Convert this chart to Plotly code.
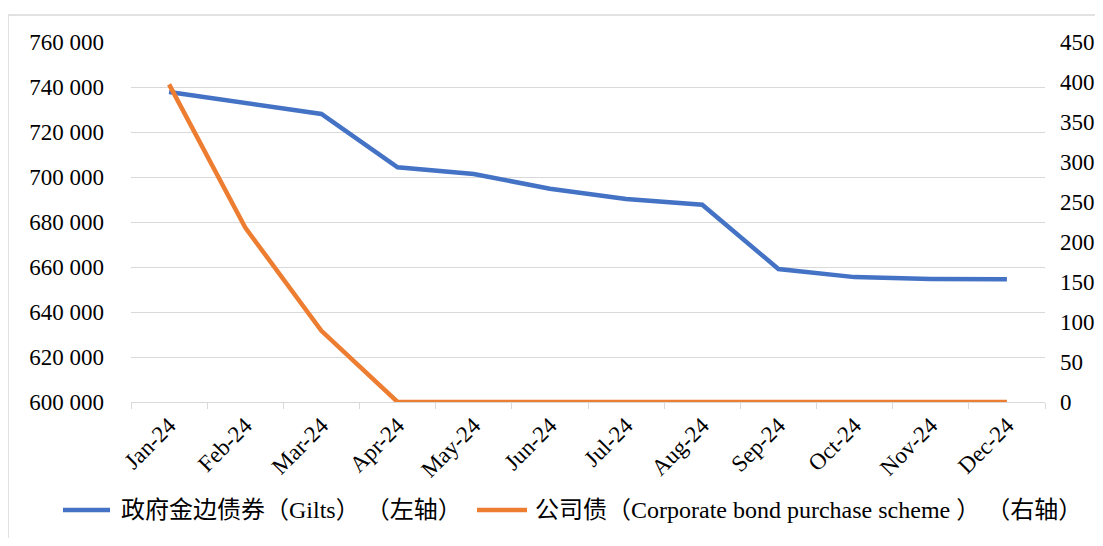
import plotly.graph_objects as go

# =====================================================
# Data
# =====================================================
months = ["Jan-24", "Feb-24", "Mar-24", "Apr-24", "May-24", "Jun-24",
          "Jul-24", "Aug-24", "Sep-24", "Oct-24", "Nov-24", "Dec-24"]

gilts = [737800, 732900, 728000, 704300, 701300, 694800,
         690200, 687700, 659100, 655500, 654700, 654600]

corporate = [397, 218, 89, 0, 0, 0, 0, 0, 0, 0, 0, 0]

gilts_name = "政府金边债券（Gilts） （左轴）"
corporate_name = "公司债（Corporate bond purchase scheme ） （右轴）"

BLUE = "#4472C4"
ORANGE = "#ED7D31"
FONT = "Liberation Serif, Times New Roman, Noto Sans CJK SC, serif"
GRID = "#d9d9d9"

# page body has an 8px margin, so the figure is shifted by 8px
OFF = 8
W, H = 1103 - 2 * OFF, 546 - 2 * OFF
L, R, T, B = 131 - OFF, 1045 - OFF, 42 - OFF, 402 - OFF


def px_x(x):
    return (x - OFF - L) / (R - L)


def px_y(y):
    return (B - (y - OFF)) / (B - T)


fig = go.Figure()

fig.add_trace(go.Scatter(
    x=months, y=gilts, name=gilts_name, mode="lines",
    line=dict(color=BLUE, width=4.5),
    yaxis="y"
))

fig.add_trace(go.Scatter(
    x=months, y=corporate, name=corporate_name, mode="lines",
    line=dict(color=ORANGE, width=4.5),
    yaxis="y2"
))

# =====================================================
# Legend (drawn by hand to match the spacing)
# =====================================================
legend_y = px_y(510)
legend_items = [
    (gilts_name, BLUE, 63, 110, 119),
    (corporate_name, ORANGE, 477, 527, 533),
]

shapes = [dict(
    type="rect", xref="paper", yref="paper",
    x0=px_x(8), x1=px_x(1101), y0=px_y(545), y1=px_y(15),
    line=dict(color=GRID, width=1.5),
    layer="below"
)]
annotations = []
for name, color, x0, x1, xt in legend_items:
    shapes.append(dict(
        type="line", xref="paper", yref="paper",
        x0=px_x(x0), x1=px_x(x1), y0=legend_y, y1=legend_y,
        line=dict(color=color, width=4.5)
    ))
    annotations.append(dict(
        text=name, xref="paper", yref="paper",
        x=px_x(xt), y=legend_y, xanchor="left", yanchor="middle",
        showarrow=False, font=dict(family=FONT, size=24)
    ))

fig.update_layout(
    width=W,
    height=H,
    plot_bgcolor="white",
    paper_bgcolor="white",
    separators=". ",
    font=dict(family=FONT, size=22, color="#000000"),
    margin=dict(l=L, r=W - R, t=T, b=H - B, autoexpand=False),
    showlegend=False,
    xaxis=dict(
        type="category",
        range=[-0.5, 11.5],
        tickangle=-45,
        tickson="boundaries",
        ticks="outside",
        ticklen=6,
        tickcolor=GRID,
        showline=True,
        linecolor=GRID,
        linewidth=1,
        showgrid=False,
        automargin=False,
        tickfont=dict(family=FONT, size=23)
    ),
    yaxis=dict(
        range=[600000, 760000],
        dtick=20000,
        tickformat=",.0f",
        showgrid=True,
        gridcolor=GRID,
        gridwidth=1,
        zeroline=False,
        showline=False,
        ticks="",
        automargin=False,
        ticklabelstandoff=26,
        tickfont=dict(family=FONT, size=23)
    ),
    yaxis2=dict(
        range=[0, 450],
        dtick=50,
        overlaying="y",
        side="right",
        showgrid=False,
        zeroline=False,
        showline=False,
        ticks="",
        automargin=False,
        ticklabelstandoff=14,
        tickfont=dict(family=FONT, size=23)
    ),
    shapes=shapes,
    annotations=annotations
)

fig.write_html("out.html")
